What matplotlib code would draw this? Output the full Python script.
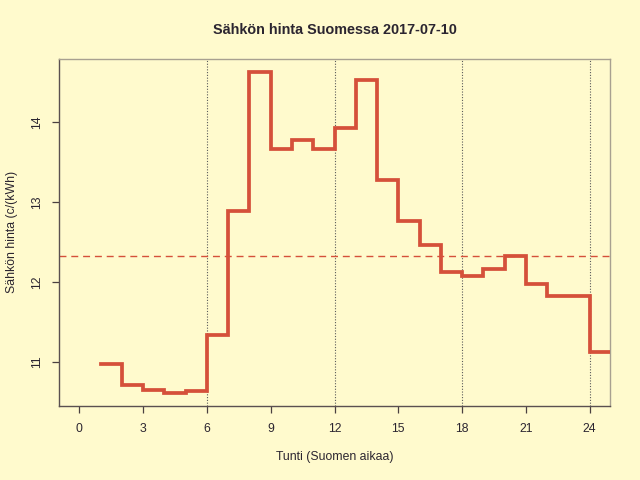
import numpy as np
import matplotlib
matplotlib.use("Agg")
import matplotlib.pyplot as plt

hours = list(range(1, 25))
prices = [10.97, 10.71, 10.65, 10.61, 10.64, 11.34, 12.89, 14.63, 13.67, 13.78,
          13.67, 13.93, 14.53, 13.28, 12.77, 12.46, 12.12, 12.08, 12.16, 12.33,
          11.98, 11.82, 11.83, 11.12]
xticks = [0, 3, 6, 9, 12, 15, 18, 21, 24]
yticks = [11, 12, 13, 14]
vlines = [6, 12, 18, 24]
title = "Sähkön hinta Suomessa 2017-07-10"
xlabel = "Tunti (Suomen aikaa)"
ylabel = "Sähkön hinta (c/(kWh)"

bg = "#FFFACD"
red = "#D5503A"
txt = "#2B2530"

plt.rcParams['font.family'] = ['Liberation Sans', 'DejaVu Sans']

fig = plt.figure(figsize=(6.4, 4.8), dpi=100, facecolor=bg)
ax = fig.add_axes([59/640, 1 - 406/480, (610-59)/640, (406-59)/480], facecolor=bg)

x = hours + [hours[-1] + 1]
y = prices + [prices[-1]]
ax.plot(x, y, drawstyle='steps-post', color=red, lw=2.7, solid_joinstyle='miter', zorder=3)

for v in vlines:
    ax.axvline(v, color="#5a5a5a", lw=0.8, ls=(0, (1, 1.5)), zorder=1)

mean = float(np.mean(prices))
ax.axhline(mean, color=red, lw=1.0, ls=(0, (5, 3.5)), zorder=2)

ax.set_xlim(-0.96, 24.96)
ax.set_ylim(10.45, 14.79)
ax.set_xticks(xticks)
ax.set_yticks(yticks)
ax.set_xticklabels([str(t) for t in xticks])
ax.set_yticklabels([str(t) for t in yticks], rotation=90, va='center')
ax.tick_params(axis='both', direction='out', length=5.2, width=0.9, color="#4a4040",
               labelsize=8.8, labelcolor=txt)
ax.tick_params(axis='x', pad=7)
ax.tick_params(axis='y', pad=6)

for s in ['left', 'bottom']:
    ax.spines[s].set_color("#5a5050")
    ax.spines[s].set_linewidth(1.0)
for s in ['top', 'right']:
    ax.spines[s].set_color("#a8a090")
    ax.spines[s].set_linewidth(1.0)

fig.text(334.5/640, 1 - 30/480, title, ha='center', va='center', fontsize=10.4,
         fontweight='bold', color=txt)
fig.text(334.5/640, 1 - 457/480, xlabel, ha='center', va='center', fontsize=8.8, color=txt)
fig.text(12/640, 1 - 232/480, ylabel, ha='center', va='center', fontsize=8.8, color=txt,
         rotation=90)

fig.savefig("out.png", dpi=100, facecolor=bg)
